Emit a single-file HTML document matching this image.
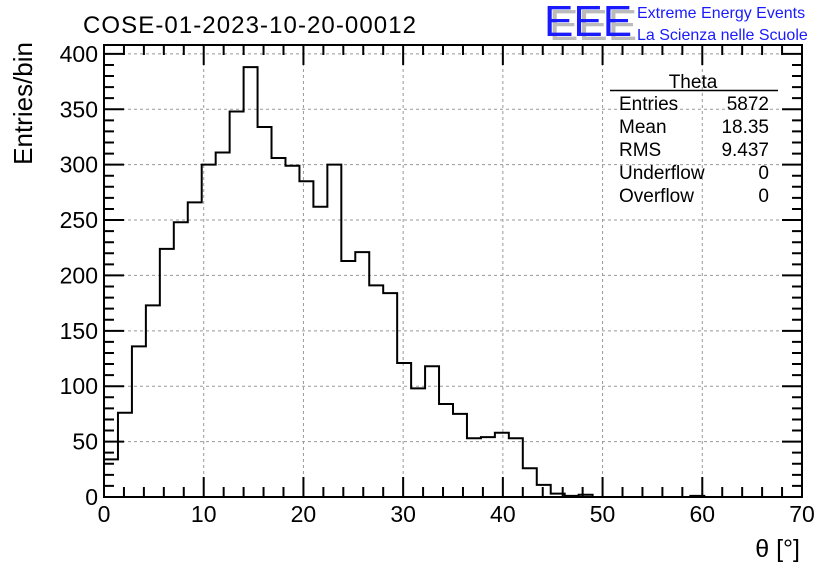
<!DOCTYPE html>
<html><head><meta charset="utf-8"><style>
body{margin:0;background:#fff;}
svg{display:block;font-family:"Liberation Sans",sans-serif;}
</style></head><body>
<svg width="836" height="572" viewBox="0 0 836 572" xmlns="http://www.w3.org/2000/svg">
<rect x="0" y="0" width="836" height="572" fill="#fff"/>
<g id="grid"></g>
<g id="ticks"></g>
<path id="hist" fill="none" stroke="#000" stroke-width="2"/>
<rect x="104" y="45" width="698" height="452" fill="none" stroke="#000" stroke-width="2"/>
<g id="labels" font-size="23"></g>
<text x="83" y="33" font-size="24" textLength="333">COSE-01-2023-10-20-00012</text>
<text x="32" y="42" font-size="26" transform="rotate(-90 32 42)" text-anchor="end">Entries/bin</text>
<text x="800" y="557" font-size="25" text-anchor="end">θ [°]</text>
<g>
<text x="549" y="40" font-size="44" fill="#bbb">EEE</text>
<text x="544" y="36" font-size="44" fill="#1a1aff">EEE</text>
<text x="637" y="18" font-size="16" fill="#1a1aff">Extreme Energy Events</text>
<text x="637" y="40" font-size="16" fill="#1a1aff">La Scienza nelle Scuole</text>
</g>
<g font-size="19">
<text x="693" y="88" text-anchor="middle">Theta</text>
<line x1="610" y1="90.5" x2="778" y2="90.5" stroke="#000" stroke-width="1.5"/>
<text x="619" y="110">Entries</text><text x="769" y="110" text-anchor="end">5872</text>
<text x="619" y="133">Mean</text><text x="769" y="133" text-anchor="end">18.35</text>
<text x="619" y="156">RMS</text><text x="769" y="156" text-anchor="end">9.437</text>
<text x="619" y="179">Underflow</text><text x="769" y="179" text-anchor="end">0</text>
<text x="619" y="202">Overflow</text><text x="769" y="202" text-anchor="end">0</text>
</g>
</svg>
<script>
const binCounts = [34,76,136,173,224,248,266,300,311,348,388,334,306,299,285,262,300,213,221,191,184,121,98,118,84,75,53,54,58,53,26,11,3,1,2,0,0,0,0,0,0,0,1,0,0,0,0,0,0,0];
const xRange = [0,70];
const yRange = [0,408];
const xTicks = [0,10,20,30,40,50,60,70];
const yTicks = [0,50,100,150,200,250,300,350,400];

const L=104,R=802,T=45,B=497;
const NS="http://www.w3.org/2000/svg";
const xs=v=>L+(v-xRange[0])/(xRange[1]-xRange[0])*(R-L);
const ys=v=>B-(v-yRange[0])/(yRange[1]-yRange[0])*(B-T);
function mk(tag,attrs,parent){const e=document.createElementNS(NS,tag);for(const k in attrs)e.setAttribute(k,attrs[k]);parent.appendChild(e);return e;}
const grid=document.getElementById('grid'),ticks=document.getElementById('ticks'),labels=document.getElementById('labels');
xTicks.forEach(v=>{
  const x=xs(v);
  if(v>xRange[0]&&v<xRange[1]){const g=mk('line',{x1:x,y1:T,x2:x,y2:B,stroke:'#999','stroke-width':1,'stroke-dasharray':'3,3'},grid);
  
  }
  const t=mk('text',{x:x,y:B+25,'text-anchor':'middle'},labels);t.textContent=v;
  
  
});
yTicks.forEach(v=>{
  const y=ys(v);
  if(v>yRange[0]){const g=mk('line',{x1:L,y1:y,x2:R,y2:y,stroke:'#999','stroke-width':1,'stroke-dasharray':'3,3'},grid);
  
  }
  const t=mk('text',{x:L-6,y:y+8,'text-anchor':'end'},labels);t.textContent=v;
  
  
});
let d='';
for(let v=0;v<=70;v+=2){const x=xs(v),len=(v%10===0)?20:10;
  d+=`M${x},${B}v${-len}M${x},${T}v${len}`;}
for(let v=0;v<=yRange[1];v+=10){const y=ys(v),len=(v%50===0)?20:10;
  d+=`M${L},${y}h${len}M${R},${y}h${-len}`;}
const tk=mk('path',{d:d,stroke:'#000','stroke-width':2,fill:'none'},ticks);


const w=(xRange[1]-xRange[0])/binCounts.length;
let p=`M${xs(0)},${ys(0)}`;
binCounts.forEach((c,i)=>{p+=`L${xs(i*w)},${ys(c)}L${xs((i+1)*w)},${ys(c)}`;});
p+=`L${xs(xRange[1])},${ys(0)}`;
document.getElementById('hist').setAttribute('d',p);
</script>
</body></html>
